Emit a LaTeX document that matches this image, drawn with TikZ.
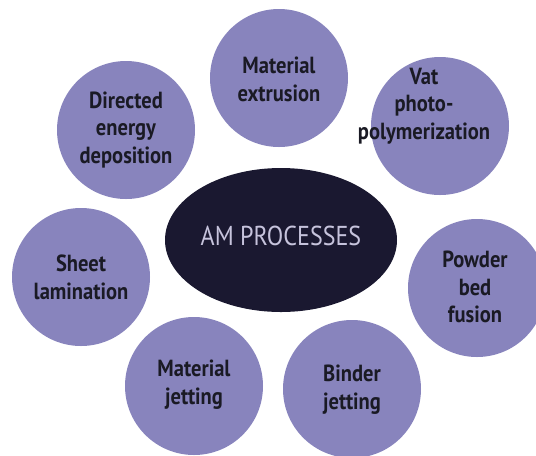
\documentclass[tikz,border=0pt]{standalone}
\usepackage{fontspec}
\setmainfont{PT Sans}[FakeStretch=0.88]
\usepackage{xcolor}
\usetikzlibrary{shapes.geometric}

\definecolor{amlila}{HTML}{8884BD}
\definecolor{amnavy}{HTML}{1A1830}
\definecolor{amtext}{HTML}{1A1A24}
\definecolor{amsvetla}{HTML}{C6C3DC}

\newcommand{\popisfont}{\bfseries\fontsize{17.5}{20.8}\selectfont}

\begin{document}
\begin{tikzpicture}[
    x=0.75pt, y=-0.75pt,
    kruh/.style={circle, fill=amlila, minimum size=103.5pt, inner sep=0pt},
    popis/.style={align=center, text=amtext, font=\popisfont}
]

\useasboundingbox (0,0) rectangle (536,455);

%% Stred: elipsa s názvom
\node[ellipse, fill=amnavy, minimum width=174pt, minimum height=108pt, inner sep=0pt]
    (stred) at (281,240) {};
\node[text=amsvetla, font=\fontsize{20.5}{24}\selectfont] (stredtext) at (281,236)
    {AM PROCESSES};

%% Procesy: meno / stred kruhu / stred textu
\foreach \meno/\kx/\ky/\tx/\ty in {
    extruzia/279/78/279/79,
    vat/440/126/424/106,
    prasok/477/288/475/287,
    binder/352/389/352/390,
    jetting/194/386/194/385,
    lamin/81/277/81/277,
    ded/126/130/126/130
} {
    \node[kruh] (\meno) at (\kx,\ky) {};
    \coordinate (\meno-t) at (\tx,\ty);
}

%% Texty procesov
\node[popis] (extruzia-p) at (extruzia-t) {Material\\extrusion};
\node[popis] (vat-p) at (vat-t) {Vat\\photo-\\polymerization};
\node[popis] (prasok-p) at (prasok-t) {Powder\\bed\\fusion};
\node[popis] (binder-p) at (binder-t) {Binder\\jetting};
\node[popis] (jetting-p) at (jetting-t) {Material\\jetting};
\node[popis] (lamin-p) at (lamin-t) {Sheet\\lamination};
\node[popis] (ded-p) at (ded-t) {Directed\\energy\\deposition};

\end{tikzpicture}
\end{document}
